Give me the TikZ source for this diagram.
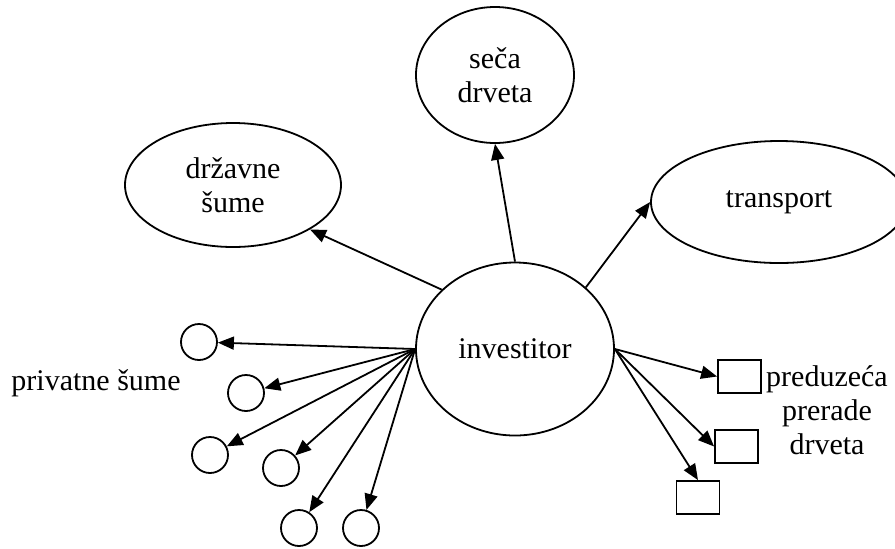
\documentclass[tikz,border=0pt]{standalone}
\usepackage{fontspec}
\setmainfont{Liberation Serif}
\usetikzlibrary{shapes.geometric,arrows.meta}

\begin{document}
\begin{tikzpicture}[x=0.5pt, y=-0.5pt,
    every node/.style={font=\fontsize{15}{17}\selectfont},
    elip/.style={draw, ellipse, line width=0.9pt, inner sep=0pt, align=center},
    krug/.style={draw, circle, line width=0.9pt, inner sep=0pt, minimum size=18pt},
    kutija/.style={draw, rectangle, line width=0.9pt, inner sep=0pt,
      minimum width=21.5pt, minimum height=16.5pt},
    veza/.style={-{Triangle[length=8pt,width=6.5pt]}, line width=0.9pt}]

      \useasboundingbox (0,0) rectangle (895,548);

      % glavni cvor i oblasti
      \node[elip, minimum width=99pt, minimum height=86.5pt] (inv) at (515,349) {investitor};
      \node[elip, minimum width=79pt, minimum height=68pt] (seca) at (495,75) {seča\\drveta};
      \node[elip, minimum width=108pt, minimum height=62pt] (drzavne) at (233,185) {državne\\šume};
      \node[elip, minimum width=128pt, minimum height=61pt] (transport) at (779,202) {transport};

      \draw[veza] (inv.north) -- (seca.south);
      \draw[veza] (inv.141) -- (drzavne.-30);
      \draw[veza] (inv.41) -- (transport.west);

      % privatne sume
      \foreach \n/\x/\y in {1/199/342, 2/246/393, 3/210/455, 4/281/468, 5/299/528, 6/361/528}
      \node[krug] (p\n) at (\x,\y) {};

      \foreach \n in {1,...,6}
      \draw[veza] (inv.west) -- (p\n);

      \node (privatne) at (96,383) {privatne šume};

      % preduzeca prerade drveta
      \node[kutija] (f1) at (739.5,376.5) {};
      \node[kutija] (f2) at (736.5,446.5) {};
      \node[kutija] (f3) at (698,497.5) {};

      \draw[veza] (inv.east) -- (f1.west);
      \draw[veza] (inv.east) -- (f2.west);
      \draw[veza] (inv.east) -- (f3.north);

      \node[align=center] (preduzeca) at (827,410) {preduzeća\\prerade\\drveta};
    \end{tikzpicture}
\end{document}
